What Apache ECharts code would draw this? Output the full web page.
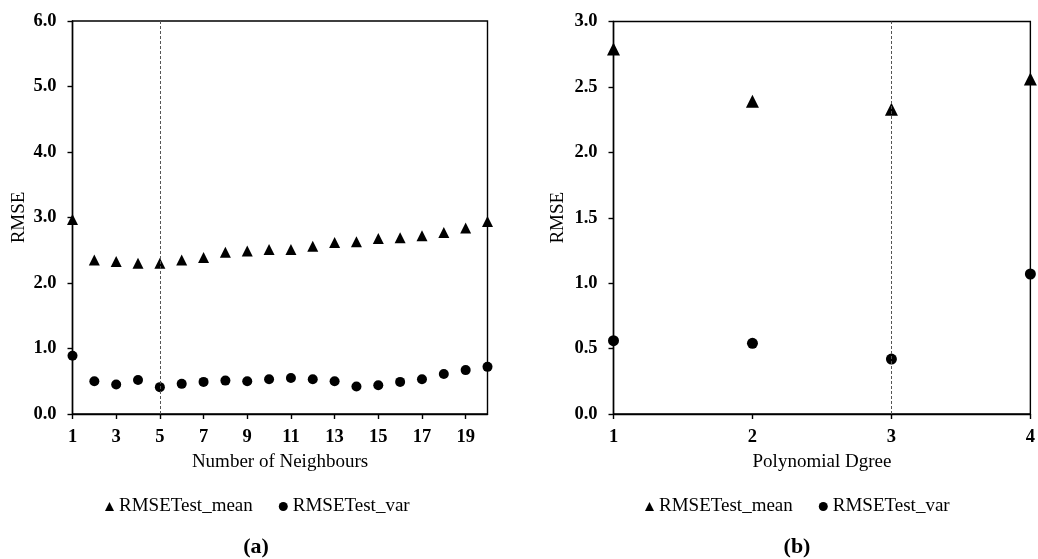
<!DOCTYPE html>
<html>
<head>
<meta charset="utf-8">
<script src="https://cdn.jsdelivr.net/npm/echarts@6/dist/echarts.min.js"></script>
<style>
  html, body { margin: 0; padding: 0; background: #fff; }
  #chart { width: 1038px; height: 559px; }
</style>
</head>
<body>
<div id="chart"></div>
<script>
// (a) RMSE against number of neighbours
const neighbours = ['1','2','3','4','5','6','7','8','9','10','11','12','13','14','15','16','17','18','19','20'];
const neighbourMean = [2.97, 2.35, 2.33, 2.30, 2.30, 2.35, 2.39, 2.47, 2.49, 2.51, 2.51, 2.56, 2.62, 2.63, 2.68, 2.69, 2.72, 2.77, 2.84, 2.94];
const neighbourVar  = [0.89, 0.50, 0.45, 0.52, 0.41, 0.46, 0.49, 0.51, 0.50, 0.53, 0.55, 0.53, 0.50, 0.42, 0.44, 0.49, 0.53, 0.61, 0.67, 0.72];
const neighbourPick = '5';

// (b) RMSE against polynomial degree
const degrees = [1, 2, 3, 4];
const degreeMean = [2.79, 2.39, 2.33, 2.56];
const degreeVar  = [0.56, 0.54, 0.42, 1.07];
const degreePick = 3;

const seriesNames = ['RMSETest_mean', 'RMSETest_var'];
const panelTags = ['a', 'b'];

const FONT = '"Liberation Serif", "Times New Roman", serif';
const INK = '#000';

const chart = echarts.init(document.getElementById('chart'), null, { renderer: 'canvas' });

function gridBox(box) {
  return Object.assign({ show: true, borderColor: INK, borderWidth: 1.4, backgroundColor: 'transparent' }, box);
}

function yAxisFor(gridIndex, max, step, gap) {
  return {
    gridIndex, type: 'value', min: 0, max, interval: step,
    name: 'RMSE', nameLocation: 'middle', nameGap: gap,
    nameTextStyle: { fontFamily: FONT, fontSize: 19, color: INK },
    axisLine: { show: true, lineStyle: { color: INK, width: 1.4 } },
    axisTick: { show: true, inside: false, length: 5, lineStyle: { color: INK, width: 1.4 } },
    axisLabel: { margin: 16, fontFamily: FONT, fontSize: 18.5, fontWeight: 'bold', color: INK,
                 formatter: v => v.toFixed(1) },
    splitLine: { show: false }
  };
}

function pickLine(value) {
  return {
    silent: true, symbol: 'none', label: { show: false },
    lineStyle: { type: [3, 2], color: '#555', width: 1 },
    data: [{ xAxis: value }]
  };
}

function legendAt(left) {
  return {
    left, top: 492, orient: 'horizontal',
    itemWidth: 9, itemHeight: 9, itemGap: 26, selectedMode: false,
    textStyle: { fontFamily: FONT, fontSize: 19, color: INK },
    data: [
      { name: seriesNames[0], icon: 'triangle', itemStyle: { color: INK, opacity: 1 } },
      { name: seriesNames[1], icon: 'circle', itemStyle: { color: INK, opacity: 1 } }
    ]
  };
}

function tagTitle(tag, centre) {
  return {
    text: '{p|(}{b|' + tag + '}{p|)}',
    left: centre, top: 531, textAlign: 'center',
    textStyle: {
      rich: {
        p: { fontFamily: FONT, fontSize: 22, color: INK },
        b: { fontFamily: FONT, fontSize: 22, fontWeight: 'bold', color: INK }
      }
    }
  };
}

const marker = { color: INK, opacity: 1 };

chart.setOption({
  animation: false,
  backgroundColor: '#fff',
  title: [tagTitle(panelTags[0], 251), tagTitle(panelTags[1], 792)],
  legend: [legendAt(100), legendAt(640)],
  grid: [
    gridBox({ left: 72.5, top: 21, width: 415, height: 393 }),
    gridBox({ left: 613.5, top: 21.5, width: 418.5, height: 392.5 })
  ],
  xAxis: [
    {
      gridIndex: 0, type: 'category', data: neighbours, boundaryGap: false,
      name: 'Number of Neighbours', nameLocation: 'middle', nameGap: 39,
      nameTextStyle: { fontFamily: FONT, fontSize: 19, color: INK },
      axisLine: { show: true, lineStyle: { color: INK, width: 1.4 } },
      axisTick: { show: true, interval: 1, length: 5, lineStyle: { color: INK, width: 1.4 } },
      axisLabel: { interval: 1, margin: 14, fontFamily: FONT, fontSize: 18.5, fontWeight: 'bold', color: INK },
      splitLine: { show: false }
    },
    {
      gridIndex: 1, type: 'value', min: 1, max: 4, interval: 1,
      name: 'Polynomial Dgree', nameLocation: 'middle', nameGap: 39,
      nameTextStyle: { fontFamily: FONT, fontSize: 19, color: INK },
      axisLine: { show: true, lineStyle: { color: INK, width: 1.4 } },
      axisTick: { show: true, length: 5, lineStyle: { color: INK, width: 1.4 } },
      axisLabel: { margin: 14, fontFamily: FONT, fontSize: 18.5, fontWeight: 'bold', color: INK },
      splitLine: { show: false }
    }
  ],
  yAxis: [
    yAxisFor(0, 6, 1, 44),
    yAxisFor(1, 3, 0.5, 46)
  ],
  series: [
    {
      name: seriesNames[0], type: 'scatter', xAxisIndex: 0, yAxisIndex: 0,
      symbol: 'triangle', symbolSize: 11, itemStyle: marker,
      data: neighbourMean, markLine: pickLine(neighbourPick), z: 3
    },
    {
      name: seriesNames[1], type: 'scatter', xAxisIndex: 0, yAxisIndex: 0,
      symbol: 'circle', symbolSize: 10, itemStyle: marker,
      data: neighbourVar, z: 3
    },
    {
      name: seriesNames[0], type: 'scatter', xAxisIndex: 1, yAxisIndex: 1,
      symbol: 'triangle', symbolSize: 13, itemStyle: marker,
      data: degrees.map((d, i) => [d, degreeMean[i]]), markLine: pickLine(degreePick), z: 3
    },
    {
      name: seriesNames[1], type: 'scatter', xAxisIndex: 1, yAxisIndex: 1,
      symbol: 'circle', symbolSize: 11, itemStyle: marker,
      data: degrees.map((d, i) => [d, degreeVar[i]]), z: 3
    }
  ]
});
</script>
</body>
</html>
